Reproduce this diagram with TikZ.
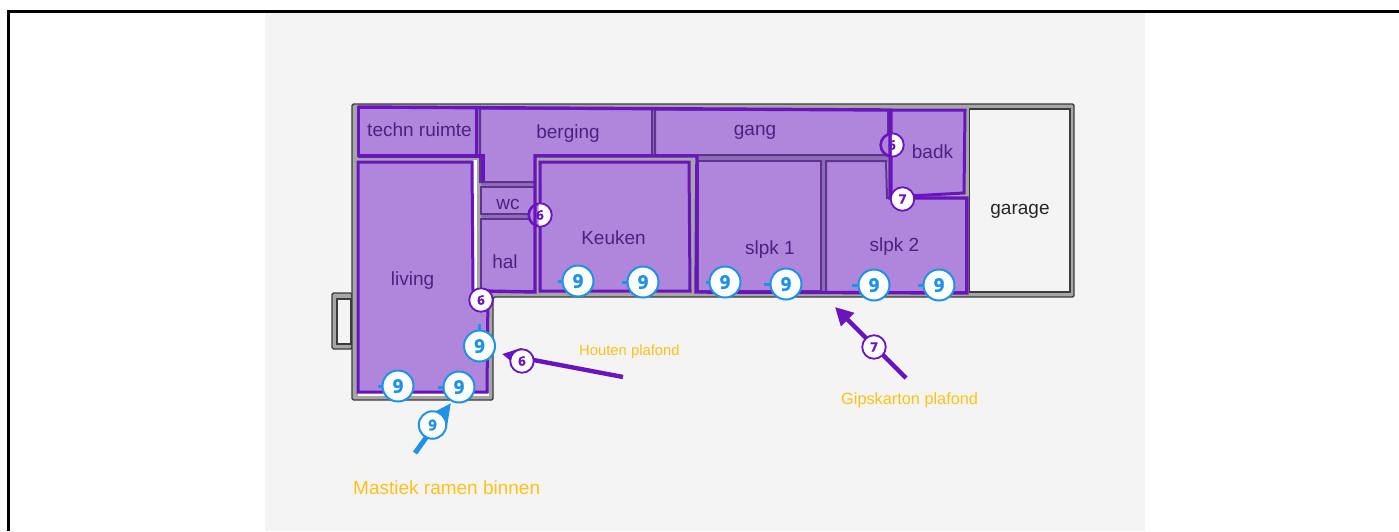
\documentclass[tikz,border=0pt]{standalone}
\usepackage{fontspec}
\setmainfont{Liberation Sans}
\newfontfamily\numfont[BoldFeatures={FakeBold=1.2}]{Open Sans}
\usetikzlibrary{arrows.meta}
\definecolor{panel}{HTML}{F4F4F4}
\definecolor{wallgray}{HTML}{A6A6A6}
\definecolor{walldark}{HTML}{3C3C3C}
\definecolor{roomfill}{HTML}{AF86DB}
\definecolor{roomedge}{HTML}{5E3391}
\definecolor{roomgap}{HTML}{8E6DB5}
\definecolor{hi}{HTML}{6A14C0}
\definecolor{mast}{HTML}{1E92E6}
\definecolor{roomtext}{HTML}{4A2380}
\definecolor{note}{HTML}{FDC11C}
\tikzset{
  x=1pt,y=-1pt,
  wall/.style={fill=wallgray,draw=walldark,line width=1.4pt,rounded corners=1.5pt,line join=round},
  room/.style={fill=roomfill,draw=roomedge,line width=2pt},
  hiroom/.style={fill=roomfill,draw=hi,line width=3pt},
  hiline/.style={draw=hi,line width=3.4pt},
  rlabel/.style={text=roomtext,font=\fontsize{19}{19}\selectfont,inner sep=0pt},
  blue9/.style={circle,draw=mast,fill=white,line width=2pt,minimum size=31pt,inner sep=0pt,text=mast,font=\numfont\bfseries\fontsize{19}{19}\selectfont},
  smallblue/.style={blue9,minimum size=27.5pt,font=\numfont\bfseries\fontsize{15}{15}\selectfont},
  purple6/.style={circle,draw=hi,fill=white,line width=1.8pt,minimum size=23.5pt,inner sep=0pt,text=hi,font=\numfont\bfseries\fontsize{13}{13}\selectfont},
  tick/.style={draw=mast,line width=3pt},
  bluearrow/.style={draw=mast,line width=5pt,-{Triangle[length=23pt,width=21pt]}},
  purplearrow/.style={draw=hi,line width=4.4pt,-{Triangle[length=18pt,width=18pt]}},
  notetext/.style={text=note,inner sep=0pt,anchor=west},
}
\begin{document}
\begin{tikzpicture}
\useasboundingbox (0,0) rectangle (1399,531);
\fill[white] (0,0) rectangle (1399,531);
\fill[panel] (265,12) rectangle (1145,531);
\draw[black,line width=3pt] (8.5,531) -- (8.5,11) -- (1399,11);
% walls
\draw[wall] (352,293) -- (332,293) -- (332,349) -- (352,349) -- cycle;
\fill[panel] (337,299) rectangle (351,344);
\draw[walldark,line width=1.2pt] (337,299) rectangle (351,344);
\draw[wall] (352,104) -- (1074,104) -- (1074,297) -- (493,297) -- (493,400) -- (352,400) -- cycle;
\fill[white] (473,160) rectangle (476.5,291);
\fill[white] (358,393) rectangle (489,396);
\draw[fill=panel,draw=walldark,line width=1.5pt] (969.5,109) rectangle (1070,292);
% tinted gaps between the rooms
\fill[roomgap] (652,110) rectangle (655,156);
\fill[roomgap] (697,155) rectangle (888,162);
\fill[roomgap] (821,161) rectangle (826,292);
\fill[roomgap] (481,182) rectangle (535,187);
\fill[roomgap] (481,214) rectangle (535,219);
\fill[roomgap] (476,107) rectangle (480,155);
% rooms
\draw[hiroom] (358,107) -- (476,107) -- (476,155) -- (358,155) -- cycle;
\draw[room] (480,108.5) -- (652,109) -- (652,155) -- (535,155) -- (535,182) -- (480,182) -- cycle;
\fill[roomfill] (483,155) rectangle (535,181);
\draw[room] (655,109.5) -- (888,110) -- (888,155) -- (655,155) -- cycle;
\draw[room] (481,187) rectangle (535,214);
\draw[room] (481,219) rectangle (535,291);
\draw[hiroom] (358,162) -- (472,162) -- (473,291) -- (488,291) -- (487,392) -- (358,392) -- cycle;
\fill[roomfill] (470,292) rectangle (485,320);
\draw[hiroom] (540,162) -- (689,162) -- (690,291) -- (540,291) -- cycle;
\draw[room] (698,161) rectangle (821,291);
\draw[room] (826,161) -- (886,161) -- (887,198) -- (966,198) -- (966,292) -- (826,292) -- cycle;
\draw[hiroom] (891,110) -- (965,110) -- (964,193) -- (891,197) -- cycle;
% markers 6 half-covered by the room fill
\node[purple6] (m6a) at (540,215) {};
\node[purple6] (m6b) at (892,145) {};
\begin{scope}
\clip (525,200) rectangle (538.5,230);
\fill[roomfill] (m6a.center) circle[radius=11];
\draw[hi,line width=1.8pt] (m6a.center) circle[radius=10.9];
\end{scope}
\begin{scope}
\clip (877,130) rectangle (892,160);
\fill[roomfill] (m6b.center) circle[radius=11];
\draw[hi,line width=1.8pt] (m6b.center) circle[radius=10.9];
\end{scope}
% highlighted outline
\draw[hiline,line join=miter] (358,107) -- (890,110) -- (890,198) -- (967,198) -- (967,293) -- (696,292) -- (697,156) -- (535,156) -- (535,292) -- (483,291);
\draw[hiline] (358,156) -- (483,156) -- (483,182);
% labels
\node[rlabel] (ltechn) at (419.5,130) {techn ruimte};
\node[rlabel] (lberg) at (568,134) {berging};
\node[rlabel] (lgang) at (755,132) {gang};
\node[rlabel] (lbadk) at (932.5,152) {badk};
\node[rlabel] (lwc) at (508,204) {wc};
\node[rlabel] (lhal) at (505,262) {hal};
\node[rlabel] (lkeuk) at (613.5,238) {Keuken};
\node[rlabel] (lslpa) at (770,250) {slpk 1};
\node[rlabel] (lslpb) at (894.5,247) {slpk 2};
\node[rlabel,text=black!85] (lgar) at (1020,211) {garage};
\node[rlabel] (lliv) at (412.5,281) {living};
% arrows
\coordinate (bs) at (415,453);
\coordinate (bt) at (451,403);
\coordinate (ps) at (623,377);
\coordinate (pt) at (502,354);
\coordinate (qs) at (906,378);
\coordinate (qt) at (835,307);
\draw[bluearrow] (bs) -- (bt);
\draw[purplearrow] (ps) -- (pt);
\draw[purplearrow] (qs) -- (qt);
% ticks and markers 9
\draw[tick] (558,281) -- (570,281);
\draw[tick] (622,282) -- (635,282);
\draw[tick] (706,282) -- (718,282);
\draw[tick] (764,284) -- (778,284);
\draw[tick] (852,285) -- (866,285);
\draw[tick] (918,285) -- (932,285);
\draw[tick] (479.5,324) -- (479.5,336);
\draw[tick] (378,386) -- (390,386);
\draw[tick] (438,387) -- (450,387);
\node[blue9] (n1) at (578,281) {9};
\node[blue9] (n2) at (643,282) {9};
\node[blue9] (n3) at (725,282) {9};
\node[blue9] (n4) at (786,284) {9};
\node[blue9] (n5) at (874,285) {9};
\node[blue9] (n6) at (939,285) {9};
\node[blue9] (n7) at (479.5,346) {9};
\node[blue9] (n8) at (398,386) {9};
\node[blue9] (n9) at (459,387) {9};
\node[smallblue] (n10) at (432.5,425) {9};
\node[purple6] (m6c) at (481,300) {6};
\node[purple6] (m6d) at (522,361) {6};
\node[purple6] (m7a) at (902.5,199) {7};
\node[purple6] (m7b) at (874,347) {7};
\node[text=hi,font=\numfont\bfseries\fontsize{13}{13}\selectfont,inner sep=0pt] (t6a) at (m6a.center) {6};
\node[text=hi,font=\numfont\bfseries\fontsize{13}{13}\selectfont,inner sep=0pt] (t6b) at (m6b.center) {6};
% notes
\node[notetext,font=\fontsize{19}{19}\selectfont] (nm) at (353,488) {Mastiek ramen binnen};
\node[notetext,font=\fontsize{14.8}{15}\selectfont] (nh) at (579,352) {Houten plafond};
\node[notetext,font=\fontsize{16.3}{16}\selectfont] (ng) at (841,400) {Gipskarton plafond};
\end{tikzpicture}
\end{document}
